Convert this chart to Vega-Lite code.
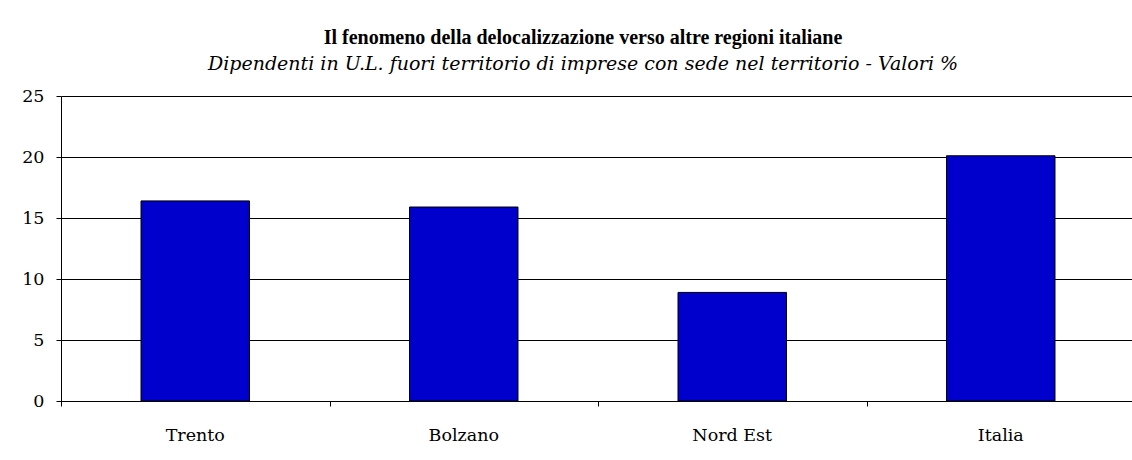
{
  "$schema": "https://vega.github.io/schema/vega-lite/v6.json",
  "width": 1074,
  "height": 305,
  "autosize": {"type": "none"},
  "padding": {"left": 61, "top": 96, "right": 0, "bottom": 59},
  "background": "white",
  "title": {
    "text": "Il fenomeno della delocalizzazione verso altre regioni italiane",
    "subtitle": "Dipendenti in U.L. fuori territorio di imprese con sede nel territorio - Valori %",
    "font": "Liberation Serif",
    "fontSize": 20,
    "fontWeight": "bold",
    "color": "black",
    "subtitleFont": "DejaVu Serif",
    "subtitleFontSize": 19,
    "subtitleFontStyle": "italic",
    "subtitleColor": "black",
    "subtitlePadding": 7,
    "anchor": "middle",
    "dx": -15,
    "offset": 13
  },
  "config": {
    "view": {"stroke": null},
    "axis": {"labelFont": "DejaVu Serif", "labelFontSize": 17.5, "labelColor": "black", "domainColor": "black", "tickColor": "black", "gridColor": "black", "gridOpacity": 1}
  },
  "layer": [
    {
      "data": {"values": [
        {"area": "Trento", "valore": 16.4},
        {"area": "Bolzano", "valore": 15.9},
        {"area": "Nord Est", "valore": 8.9},
        {"area": "Italia", "valore": 20.1}
      ]},
      "mark": {"type": "bar", "color": "#0000cc", "stroke": "black", "strokeWidth": 1},
      "encoding": {
        "x": {"field": "area", "type": "nominal", "sort": null,
              "scale": {"paddingInner": 0.596, "paddingOuter": 0.298},
              "axis": {"title": null, "ticks": false, "labelAngle": 0, "labelPadding": 25, "domain": true, "orient": "bottom"}},
        "y": {"field": "valore", "type": "quantitative",
              "scale": {"domain": [0, 25], "nice": false},
              "axis": {"title": null, "values": [0, 5, 10, 15, 20, 25], "grid": true, "tickSize": 5, "labelPadding": 12}}
      }
    },
    {
      "data": {"values": [{"confine": 0}, {"confine": 1}, {"confine": 2}, {"confine": 3}, {"confine": 4}]},
      "mark": {"type": "rule", "opacity": 0},
      "encoding": {
        "x": {"field": "confine", "type": "quantitative",
              "scale": {"domain": [0, 4], "nice": false, "zero": false},
              "axis": {"title": null, "orient": "bottom", "values": [0, 1, 2, 3, 4], "labels": false, "domain": false, "grid": false, "tickSize": 5}}
      }
    }
  ],
  "resolve": {"scale": {"x": "independent"}, "axis": {"x": "independent"}}
}
